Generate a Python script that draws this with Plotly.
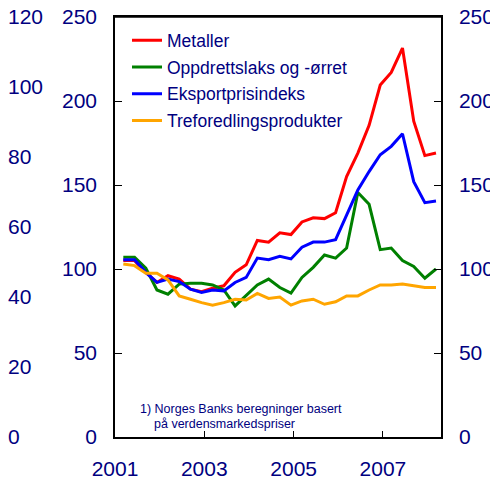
import pandas as pd
import plotly.graph_objects as go

# Kvartalsdata 2001K1 - 2008K1 (indeks)
kvartaler = [pd.Timestamp("2001-03-10") + pd.DateOffset(months=3 * i) for i in range(29)]

metaller = [105, 105, 98, 92, 96, 94, 88, 86.5, 88.5, 90, 98, 102.5, 117, 116, 121.5,
            120.5, 128, 130.5, 130, 133.5, 155, 169, 185.5, 209.5, 217, 231.5, 188, 167.5, 169]
laks = [107, 107, 100.5, 87.5, 85, 91, 91.5, 91.5, 90.5, 87.5, 78, 84.5, 90.5, 94, 89,
        85.7, 95, 101, 108.3, 106.5, 112.5, 145.5, 138.5, 111.5, 112.5, 105, 101.5, 94.5, 100]
eksport = [105.5, 105.5, 98, 92, 94, 92.5, 88, 86, 87.5, 87, 92, 95, 106.5, 105.5, 107.5,
           106, 113, 116, 116, 117.5, 132, 147, 158, 168, 173, 180.5, 152, 139.5, 140.5]
treforedling = [103, 102, 97.5, 97.5, 93.5, 84, 82, 80, 78.5, 80, 82, 81.5, 85.5, 82.5, 83.3,
                78.5, 81, 82, 79, 80.5, 84, 84, 87.5, 90.5, 90.5, 91, 90, 89, 89]

serier = [
    ("Metaller", metaller, "#FF0000"),
    ("Oppdrettslaks og -ørret", laks, "#008000"),
    ("Eksportprisindeks", eksport, "#0000FF"),
    ("Treforedlingsprodukter", treforedling, "#FFA500"),
]

aar_ticks = ["2001-01-01", "2003-01-01", "2005-01-01", "2007-01-01"]
aar_tekst = ["2001", "2003", "2005", "2007"]

tekst_farge = "#000080"
font_navn = "Liberation Sans, Arial, sans-serif"

# Siden har 8 px marg i nettleseren, saa figuren er 490x475
B = 433  # bredde paa "paper" i px
x0 = 107 / B  # venstre kant av plottet

fig = go.Figure()
for navn, verdier, farge in serier:
    fig.add_trace(go.Scatter(x=kvartaler, y=verdier, name=navn, mode="lines",
                             line=dict(color=farge, width=3), legendgroup=navn))

# Usynlig spor for hoyre akse
fig.add_trace(go.Scatter(x=kvartaler, y=metaller, yaxis="y2", showlegend=False,
                         line=dict(width=0), hoverinfo="skip", opacity=0))
# Usynlig spor for ytterste venstre akse (0-120)
fig.add_trace(go.Scatter(x=kvartaler, y=[v * 120 / 250 for v in metaller], yaxis="y3",
                         showlegend=False, line=dict(width=0), hoverinfo="skip", opacity=0))

fig.update_layout(
    width=490, height=475,
    margin=dict(l=0, r=57, t=9, b=46, autoexpand=False),
    plot_bgcolor="white", paper_bgcolor="white",
    font=dict(family=font_navn, size=21, color=tekst_farge),
    showlegend=True,
    legend=dict(x=119 / B, y=0.9875, xanchor="left", yanchor="top",
                font=dict(size=17.5, color=tekst_farge), bgcolor="rgba(0,0,0,0)",
                tracegroupgap=1),
    xaxis=dict(
        domain=[x0, 1], automargin=False,
        type="date",
        range=["2001-01-01", "2008-04-20"],
        tickvals=aar_ticks, ticktext=aar_tekst,
        ticks="inside", ticklen=6, tickwidth=1.2, tickcolor="black",
        showline=True, linecolor="black", linewidth=1.5, mirror=True,
        showgrid=False, zeroline=False,
        ticklabelstandoff=12, ticklabeloverflow="allow",
        tickfont=dict(color=tekst_farge),
    ),
    yaxis=dict(
        range=[0, 250], tickvals=[0, 50, 100, 150, 200, 250], automargin=False,
        ticks="inside", ticklen=7, tickwidth=1.2, tickcolor="black",
        showline=True, linecolor="black", linewidth=1.5,
        showgrid=False, zeroline=False,
        ticklabelstandoff=12, ticklabeloverflow="allow",
        tickfont=dict(color=tekst_farge),
    ),
    yaxis2=dict(
        range=[0, 250], tickvals=[0, 50, 100, 150, 200, 250], automargin=False,
        overlaying="y", side="right", anchor="x",
        ticks="inside", ticklen=7, tickwidth=1.2, tickcolor="black",
        showline=True, linecolor="black", linewidth=1.5,
        showgrid=False, zeroline=False,
        ticklabelstandoff=12, ticklabeloverflow="allow",
        tickfont=dict(color=tekst_farge),
    ),
    yaxis3=dict(
        range=[0, 120], tickvals=[0, 20, 40, 60, 80, 100, 120], automargin=False,
        overlaying="y", side="left", anchor="free", position=0,
        ticklabelposition="inside", ticklabeloverflow="allow",
        ticklabelstandoff=-4,
        ticks="", showline=False, showgrid=False, zeroline=False,
        tickfont=dict(color=tekst_farge),
    ),
)

# Ramme oeverst
fig.add_shape(type="line", xref="paper", yref="paper", x0=x0, x1=1, y0=1, y1=1,
              line=dict(color="black", width=1.5))

# Fotnote
fig.add_annotation(text="1) Norges Banks beregninger basert", xref="paper", yref="paper",
                   x=130 / B, y=(437 - 409) / 420, xanchor="left", yanchor="middle",
                   showarrow=False, font=dict(size=12.5, color=tekst_farge))
fig.add_annotation(text="på verdensmarkedspriser", xref="paper", yref="paper",
                   x=144 / B, y=(437 - 424) / 420, xanchor="left", yanchor="middle",
                   showarrow=False, font=dict(size=12.5, color=tekst_farge))

fig.write_html("out.html")
